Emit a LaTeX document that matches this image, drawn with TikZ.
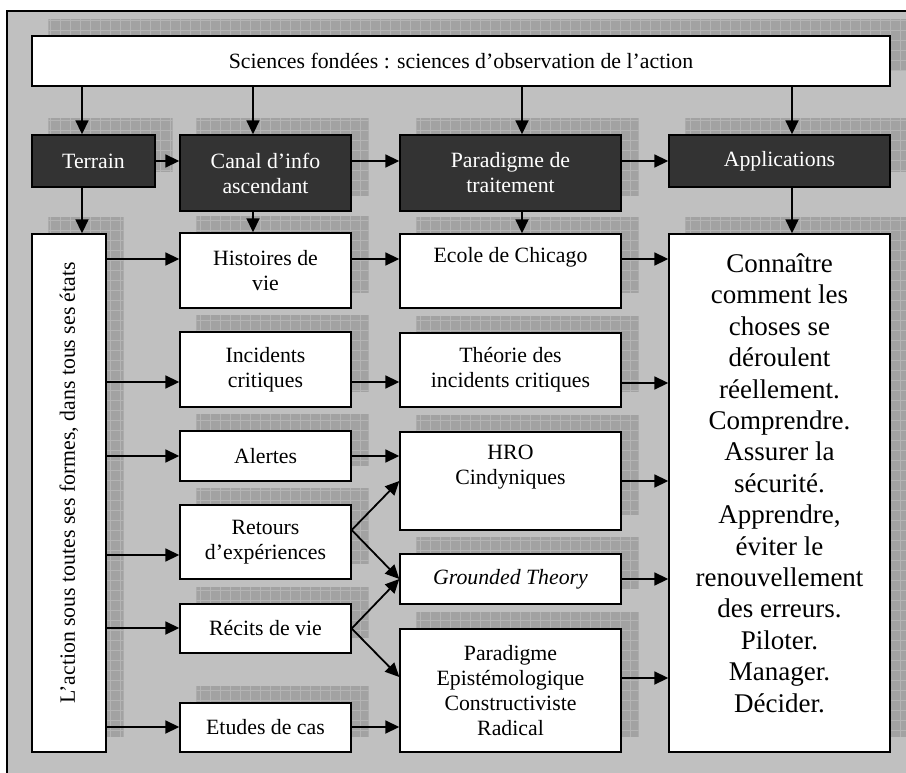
\documentclass[tikz,border=0pt]{standalone}
\usepackage{fontspec}
\setmainfont{Liberation Serif}
\usetikzlibrary{arrows.meta,calc}
\pgfdeclarelayer{bg}
\pgfsetlayers{bg,main}
\definecolor{bgc}{HTML}{C0C0C0}
\definecolor{shc}{HTML}{A2A2A2}
\definecolor{grc}{HTML}{B4B4B4}
\definecolor{dk}{HTML}{333333}
\tikzset{
  box/.style={draw=black, line width=1.4pt, fill=white, align=center, inner sep=0pt,
    font=\fontsize{21.8}{25}\selectfont},
  darkbox/.style={box, fill=dk, text=white},
  arr/.style={line width=1.8pt, -{Triangle[length=14pt,width=13pt]}},
  bigtext/.style={align=center, font=\fontsize{27}{31.4}\selectfont},
}
\newcommand\shad[1]{%
  \begin{pgfonlayer}{bg}
    \begin{scope}[x=1pt, y=1pt]
      \path[clip] ([xshift=17pt,yshift=16pt]#1.south west) rectangle ([xshift=17pt,yshift=16pt]#1.north east);
      \fill[shc] ([xshift=17pt,yshift=16pt]#1.south west) rectangle ([xshift=17pt,yshift=16pt]#1.north east);
      \draw[grc, line width=0.7pt, step=10pt] ([xshift=17pt,yshift=16pt]#1.south west) grid ([xshift=17pt,yshift=16pt]#1.north east);
    \end{scope}
  \end{pgfonlayer}}
\begin{document}
\begin{tikzpicture}[x=1pt, y=-1pt]
\useasboundingbox (0,0) rectangle (906,773);
\clip (0,0) rectangle (906,773);
\begin{pgfonlayer}{bg}
  \fill[bgc] (7,11) rectangle (912,780);
  \draw[black, line width=1.4pt] (912,11) -- (7,11) -- (7,780);
\end{pgfonlayer}

% top
\node[box, minimum width=858pt, minimum height=50pt] (top) at (461,61) {Sciences fondées : sciences d’observation de l’action};
% dark row
\node[darkbox, minimum width=123pt, minimum height=52pt] (terrain) at (93.5,161) {Terrain};
\node[darkbox, minimum width=171pt, minimum height=76pt] (canal) at (265.5,173) {Canal d’info\\ascendant};
\node[darkbox, minimum width=221pt, minimum height=76pt] (parad) at (510.5,173) {Paradigme de\\traitement};
\node[darkbox, minimum width=221pt, minimum height=52pt] (appl) at (779.5,161) {Applications};
% left column
\node[box, minimum width=74pt, minimum height=518pt] (action) at (69,493) {};
\node[rotate=90, font=\fontsize{21.8}{25}\selectfont] (actiontxt) at ([yshift=10pt]action.center) {L’action sous toutes ses formes, dans tous ses états};
% second column
\node[box, minimum width=171pt, minimum height=75pt] (hist) at (265.5,270.5) {Histoires de\\vie};
\node[box, minimum width=171pt, minimum height=75pt] (incid) at (265.5,369.5) {Incidents\\critiques};
\node[box, minimum width=171pt, minimum height=50pt] (alert) at (265.5,456) {Alertes};
\node[box, minimum width=171pt, minimum height=74pt] (retour) at (265.5,542) {Retours\\d’expériences};
\node[box, minimum width=171pt, minimum height=49pt] (recit) at (265.5,628.5) {Récits de vie};
\node[box, minimum width=171pt, minimum height=49pt] (etude) at (265.5,727.5) {Etudes de cas};
% third column
\node[box, minimum width=221pt, minimum height=74pt] (ecole) at (510.5,271) {Ecole de Chicago\\\strut};
\node[box, minimum width=221pt, minimum height=74pt] (theorie) at (510.5,370) {Théorie des\\incidents critiques};
\node[box, minimum width=221pt, minimum height=98pt] (hro) at (510.5,481) {HRO\\Cindyniques\\\strut};
\node[box, minimum width=221pt, minimum height=50pt] (grounded) at (510.5,579) {\textit{Grounded Theory}};
\node[box, minimum width=221pt, minimum height=123pt] (epist) at (510.5,690.5) {Paradigme\\Epistémologique\\Constructiviste\\Radical};
% result
\node[box, minimum width=221pt, minimum height=518pt] (res) at (779.5,493) {};
\node[bigtext] (restext) at ([yshift=10pt]res.center) {Connaître\\comment les\\choses se\\déroulent\\réellement.\\Comprendre.\\Assurer la\\sécurité.\\Apprendre,\\éviter le\\renouvellement\\des erreurs.\\Piloter.\\Manager.\\Décider.};

% shadows
\foreach \n in {top,terrain,canal,parad,appl,action,hist,incid,alert,retour,recit,etude,ecole,theorie,hro,grounded,epist,res} {\shad{\n}}

% vertical arrows
\coordinate (v1) at ([xshift=-11.5pt]terrain.north);
\coordinate (v2) at ([xshift=-12.5pt]canal.north);
\coordinate (v3) at ([xshift=11.5pt]parad.north);
\coordinate (v4) at ([xshift=12.5pt]appl.north);
\draw[arr] (v1 |- top.south) -- (v1);
\draw[arr] (v2 |- top.south) -- (v2);
\draw[arr] (v3 |- top.south) -- (v3);
\draw[arr] (v4 |- top.south) -- (v4);
\draw[arr] (v1 |- terrain.south) -- (v1 |- action.north);
\draw[arr] (v2 |- canal.south) -- (v2 |- hist.north);
\draw[arr] (v3 |- parad.south) -- (v3 |- ecole.north);
\draw[arr] (v4 |- appl.south) -- (v4 |- res.north);
% top row horizontals
\draw[arr] (terrain.east) -- (terrain.east -| canal.west);
\draw[arr] (terrain.east -| canal.east) -- (terrain.east -| parad.west);
\draw[arr] (terrain.east -| parad.east) -- (terrain.east -| appl.west);
% from action
\draw[arr] ([yshift=11.5pt]hist.west -| action.east) -- ([yshift=11.5pt]hist.west);
\draw[arr] ([yshift=-12.5pt]incid.west -| action.east) -- ([yshift=-12.5pt]incid.west);
\draw[arr] (alert.west -| action.east) -- (alert.west);
\draw[arr] ([yshift=-13pt]retour.west -| action.east) -- ([yshift=-13pt]retour.west);
\draw[arr] ([yshift=0.5pt]recit.west -| action.east) -- ([yshift=0.5pt]recit.west);
\draw[arr] ([yshift=0.5pt]etude.west -| action.east) -- ([yshift=0.5pt]etude.west);
% second to third
\draw[arr] ([yshift=11.5pt]hist.east) -- ([yshift=11.5pt]hist.east -| ecole.west);
\draw[arr] ([yshift=-12.5pt]incid.east) -- ([yshift=-12.5pt]incid.east -| theorie.west);
\draw[arr] (alert.east) -- (alert.east -| hro.west);
\draw[arr] ([yshift=0.5pt]etude.east) -- ([yshift=0.5pt]etude.east -| epist.west);
\draw[arr] ([yshift=12pt]retour.east) -- (hro.west);
\draw[arr] ([yshift=12pt]retour.east) -- (grounded.west);
\draw[arr] (recit.east) -- (grounded.west);
\draw[arr] (recit.east) -- ([yshift=13.5pt]epist.west);
% third to result
\draw[arr] ([yshift=12pt]ecole.east) -- ([yshift=12pt]ecole.east -| res.west);
\draw[arr] ([yshift=-13pt]theorie.east) -- ([yshift=-13pt]theorie.east -| res.west);
\draw[arr] (hro.east) -- (hro.east -| res.west);
\draw[arr] (grounded.east) -- (grounded.east -| res.west);
\draw[arr] ([yshift=12.5pt]epist.east) -- ([yshift=12.5pt]epist.east -| res.west);
\end{tikzpicture}
\end{document}
